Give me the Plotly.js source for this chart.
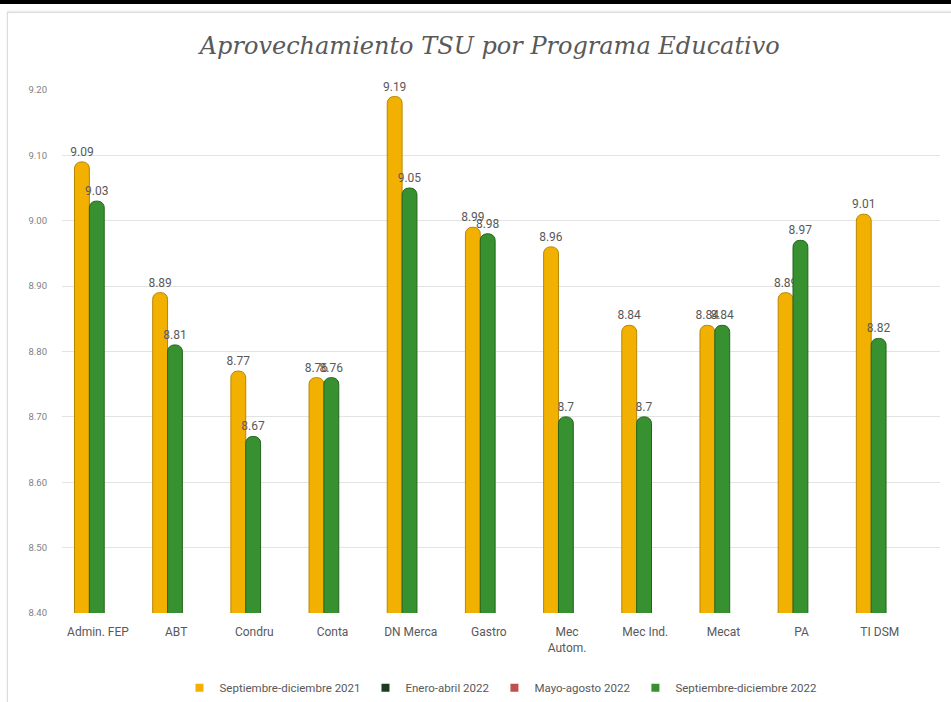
<!DOCTYPE html>
<html>
<head>
<meta charset="utf-8">
<script src="https://cdn.plot.ly/plotly-3.0.1.min.js"></script>
<style>
html,body{margin:0;padding:0;background:#fff;width:951px;height:702px;overflow:hidden;}
#topbar{position:absolute;left:0;top:0;width:951px;height:4px;background:#000;}
#frame{position:absolute;left:7px;top:12px;width:950px;height:700px;border-left:1px solid #dcdcdc;border-top:1px solid #dcdcdc;box-shadow:0 -1px 2px #e6e6e6;}
#chart{position:absolute;left:0;top:0;width:951px;height:702px;}
</style>
</head>
<body>
<div id="topbar"></div>
<div id="frame"></div>
<div id="chart"></div>
<script>
const categories = ["Admin. FEP","ABT","Condru","Conta","DN Merca","Gastro","Mec<br>Autom.","Mec Ind.","Mecat","PA","TI DSM"];
const seriesNames = ["Septiembre-diciembre 2021","Enero-abril 2022","Mayo-agosto 2022","Septiembre-diciembre 2022"];
const seriesColors = ["#F2B100","#1F3B1F","#C0504D","#379130"];
const sepDic2021 = [9.09, 8.89, 8.77, 8.76, 9.19, 8.99, 8.96, 8.84, 8.84, 8.89, 9.01];
const sepDic2021Labels = ["9.09","8.89","8.77","8.76","9.19","8.99","8.96","8.84","8.84","8.89","9.01"];
const sepDic2022 = [9.03, 8.81, 8.67, 8.76, 9.05, 8.98, 8.7, 8.7, 8.84, 8.97, 8.82];
const sepDic2022Labels = ["9.03","8.81","8.67","8.76","9.05","8.98","8.7","8.7","8.84","8.97","8.82"];
const yTicks = [8.4, 8.5, 8.6, 8.7, 8.8, 8.9, 9.0, 9.1, 9.2];
const yTickText = ["8.40","8.50","8.60","8.70","8.80","8.90","9.00","9.10","9.20"];

const xIdx = categories.map((c, i) => i);
const font = "Roboto, Arial, sans-serif";

const traces = [
  {
    type: "bar", name: seriesNames[0], x: xIdx, y: sepDic2021, showlegend: false,
    width: 0.19, offset: -0.30,
    marker: {color: seriesColors[0], line: {color: "#B88600", width: 1}, cornerradius: 7},
    text: sepDic2021Labels, textposition: "outside", cliponaxis: false, constraintext: "none",
    textfont: {color: "#595959", size: 12, family: font},
    hoverinfo: "skip"
  },
  {
    type: "bar", name: seriesNames[3], x: xIdx, y: sepDic2022, showlegend: false,
    width: 0.19, offset: -0.11,
    marker: {color: seriesColors[3], line: {color: "#23641C", width: 1}, cornerradius: 7},
    text: sepDic2022Labels, textposition: "outside", cliponaxis: false, constraintext: "none",
    textfont: {color: "#595959", size: 12, family: font},
    hoverinfo: "skip"
  }
];
// legend entries (small squares, as in the reference)
seriesNames.forEach((n, i) => {
  traces.push({
    type: "scatter", mode: "markers", name: n, x: [null], y: [null],
    marker: {symbol: "square", color: seriesColors[i], size: 8}
  });
});

const layout = {
  width: 951, height: 702,
  paper_bgcolor: "rgba(0,0,0,0)", plot_bgcolor: "rgba(0,0,0,0)",
  margin: {l: 62, r: 11, t: 90, b: 89, autoexpand: false},
  title: {
    text: "Aprovechamiento TSU por Programa Educativo",
    font: {family: "DejaVu Serif, Liberation Serif, serif", size: 24, color: "#595959", style: "italic"},
    x: 0.515, xanchor: "center", y: 0.935, yanchor: "middle"
  },
  barmode: "overlay",
  xaxis: {
    range: [-0.46, 10.77], automargin: false,
    tickmode: "array", tickvals: xIdx, ticktext: categories,
    showgrid: false, zeroline: false, showline: false,
    tickfont: {family: font, size: 12, color: "#595959"},
    ticks: "", ticklabelstandoff: 10
  },
  yaxis: {
    range: [8.4, 9.2], automargin: false,
    tickmode: "array", tickvals: yTicks, ticktext: yTickText,
    showgrid: true, gridcolor: "#E3E3E3", gridwidth: 1,
    zeroline: false, showline: false,
    tickfont: {family: font, size: 9.5, color: "#7F7F7F"},
    ticks: "", ticklabelstandoff: 14
  },
  showlegend: true,
  legend: {
    orientation: "h", x: 0.5, xanchor: "center", y: -0.143, yanchor: "middle",
    font: {family: font, size: 11.5, color: "#595959"},
    itemwidth: 30
  },
  bargap: 0
};

Plotly.newPlot("chart", traces, layout, {staticPlot: true, displayModeBar: false});
</script>
</body>
</html>
